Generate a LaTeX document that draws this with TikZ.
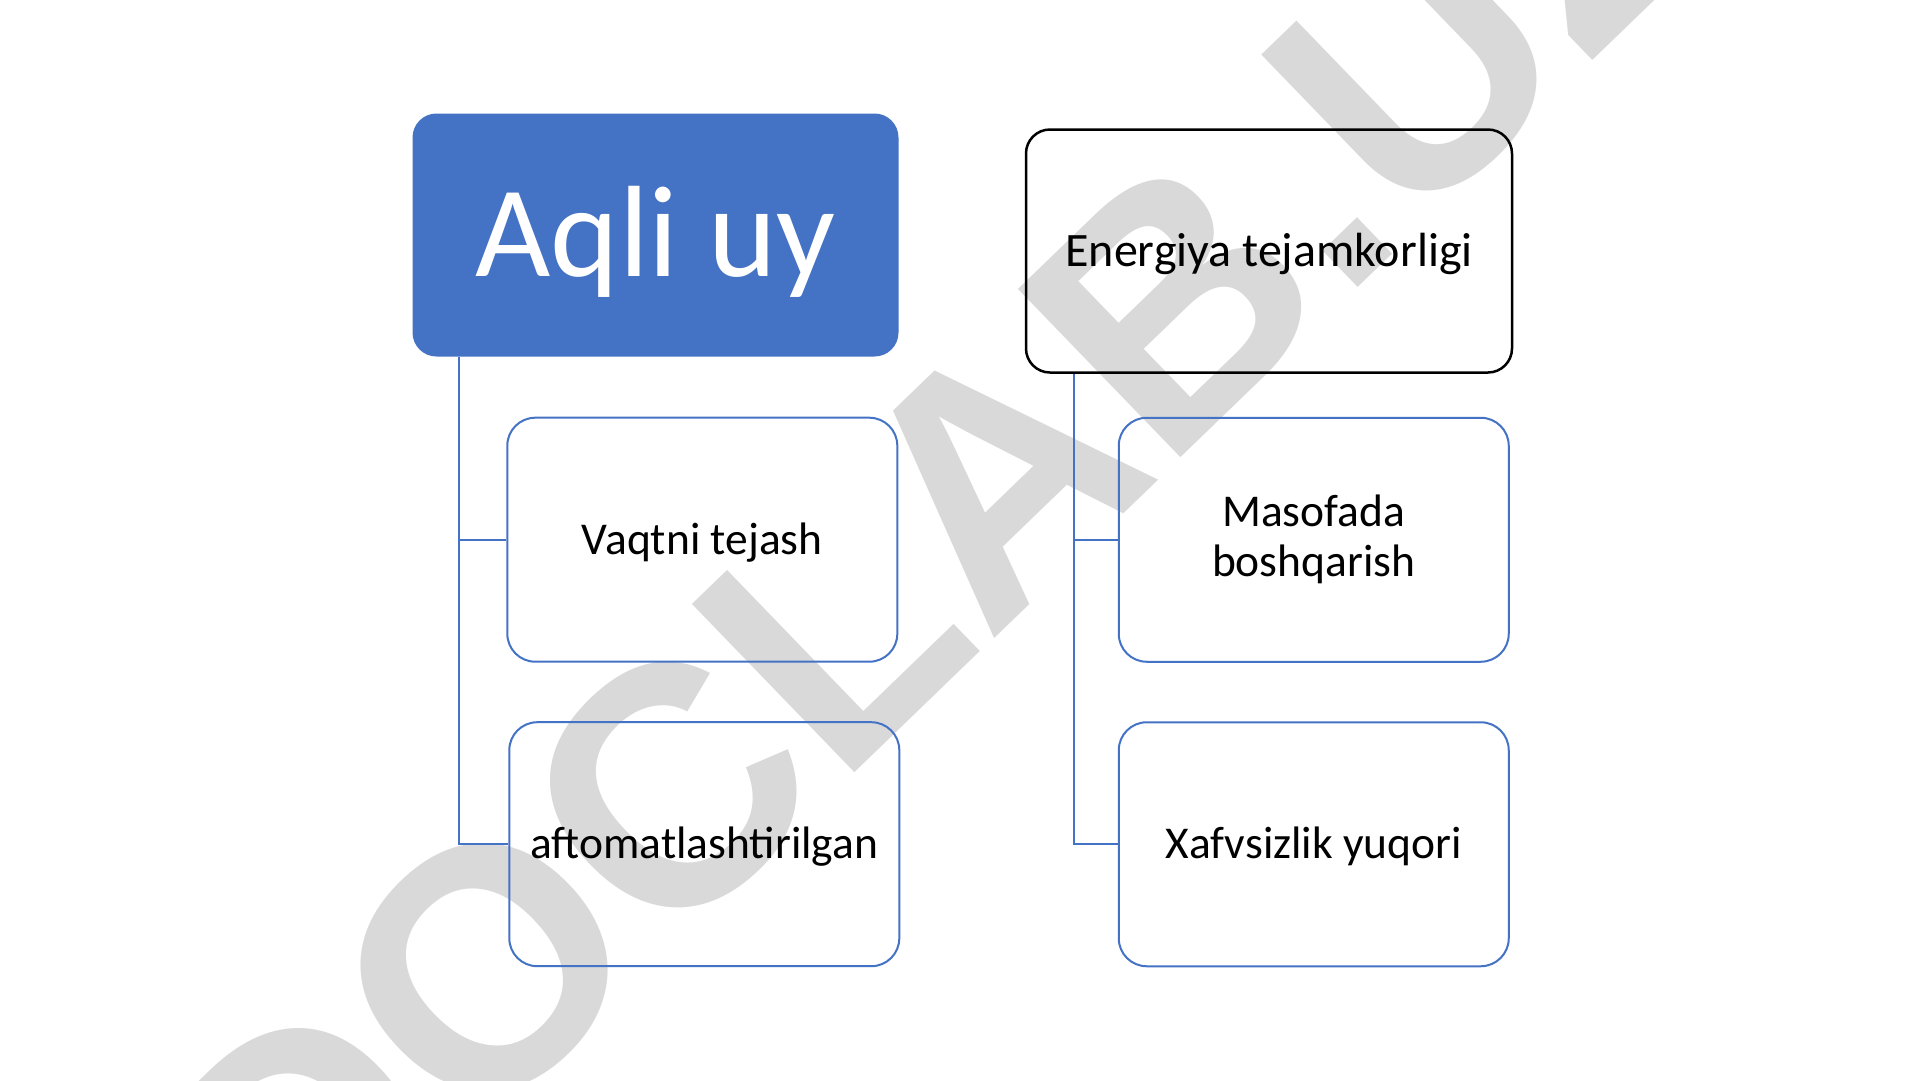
\documentclass[tikz,border=0pt]{standalone}
\usepackage{fontspec}
\setmainfont{Carlito}
\newfontfamily\markfont{Liberation Sans}
\usetikzlibrary{positioning}

\definecolor{boxblue}{RGB}{68,114,196}
\definecolor{markgray}{RGB}{217,217,217}

\begin{document}
\begin{tikzpicture}[x=1pt, y=-1pt]
	\tikzset{node distance=58.5pt,
		topbox/.style={rectangle, rounded corners=24pt, minimum width=486pt, minimum height=243pt, inner sep=0pt},
		itembox/.style={rectangle, draw=boxblue, line width=2pt, rounded corners=28pt, minimum width=390pt, minimum height=244pt, inner sep=0pt, align=center, font=\fontsize{45.5}{50}\selectfont},
		oneline/.style={text height=28.8pt, text depth=0pt},
		link/.style={draw=boxblue, line width=2pt},
		watermark/.style={text=markgray, rotate=44, inner sep=0pt, font=\markfont\bfseries\fontsize{340}{340}\selectfont}}

	\useasboundingbox[fill=white] (0,0) rectangle (1920,1080);

	% watermark behind everything
	\node[watermark] (mark) at (934,534) {DOCLAB.UZ};

	\node[topbox, fill=boxblue, text=white, text height=82pt, text depth=0pt, font=\fontsize{130}{130}\selectfont] (aqli) at (655.5,235) {Aqli uy};
	\node[topbox, draw=black, line width=2.5pt, text height=30.3pt, text depth=0pt, font=\fontsize{48}{48}\selectfont] (energiya) at (1269,251) {Energiya tejamkorligi};

	\node[itembox, oneline, below right=60pt and 94pt of aqli.south west] (vaqt) {Vaqtni tejash};
	\node[itembox, oneline, below=of vaqt, xshift=2pt] (avto) {aftomatlashtirilgan};
	\node[itembox, below right=43pt and 93pt of energiya.south west] (masofa) {Masofada\\boshqarish};
	\node[itembox, oneline, below=of masofa] (xavf) {Xafvsizlik yuqori};

	\draw[link] ([xshift=47pt]aqli.south west) |- (vaqt.west);
	\draw[link] ([xshift=47pt]aqli.south west) |- (avto.west);
	\draw[link] ([xshift=49pt]energiya.south west) |- (masofa.west);
	\draw[link] ([xshift=49pt]energiya.south west) |- (xavf.west);
\end{tikzpicture}
\end{document}
